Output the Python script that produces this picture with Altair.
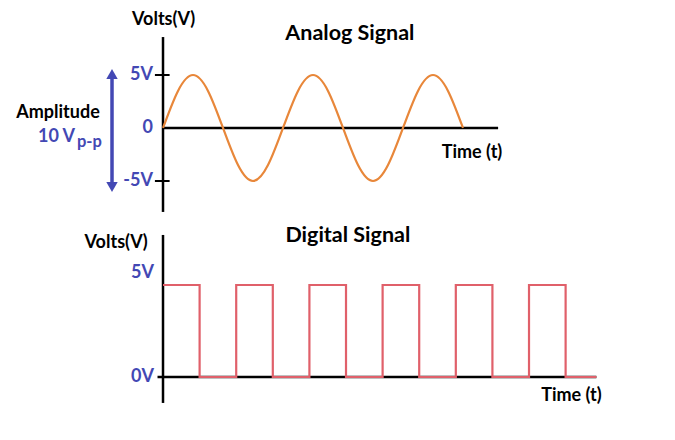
import altair as alt
import pandas as pd

# ---------------- data ----------------
# Analog signal: time in units of 1/4 period, sampled every 1/8 period; volts
analog_t = [0, 0.5, 1, 1.5, 2, 2.5, 3, 3.5, 4, 4.5, 5, 5.5, 6, 6.5, 7, 7.5, 8, 8.5, 9, 9.5, 10]
analog_v = [0, 3.5, 5, 3.5, 0, -3.5, -5, -3.5, 0, 3.5, 5, 3.5, 0, -3.5, -5, -3.5, 0, 3.5, 5, 3.5, 0]

# Digital signal: level changes (time in half-periods), volts
digital_t = [0, 1, 2, 3, 4, 5, 6, 7, 8, 9, 10, 11, 11.84]
digital_v = [5, 0, 5, 0, 5, 0, 5, 0, 5, 0, 5, 0, 0]

analog_tick_values = [5, 0, -5]
analog_tick_labels = ["5V", "0", "-5V"]
digital_tick_values = [5, 0]
digital_tick_labels = ["5V", "0V"]

ORANGE = "#E8873A"
RED = "#E0606A"
BLUE = "#4348B4"
FONT = "Lato"

W, H = 659, 212
TXT = 18      # body text size
TTL = 21.5    # panel title size

# ---------------- helpers ----------------
def text(df, xs, ys, size, color="black", align="center", dx=0, dy=0, weight="bold"):
    return alt.Chart(df).mark_text(
        font=FONT, fontSize=size, fontWeight=weight, color=color,
        align=align, baseline="middle", dx=dx, dy=dy
    ).encode(
        x=alt.X("x:Q", scale=xs, axis=None),
        y=alt.Y("y:Q", scale=ys, axis=None),
        text="label:N",
    )

def rule(df, xs, ys, width=2, color="black"):
    enc = dict(x=alt.X("x:Q", scale=xs, axis=None), y=alt.Y("y:Q", scale=ys, axis=None))
    if "x2" in df.columns:
        enc["x2"] = "x2:Q"
    if "y2" in df.columns:
        enc["y2"] = "y2:Q"
    return alt.Chart(df).mark_rule(color=color, strokeWidth=width).encode(**enc)

# ---------------- analog panel ----------------
ax = alt.Scale(domain=[-5.167, 16.8], nice=False, zero=False)
ay = alt.Scale(domain=[-8.68, 11.32], nice=False, zero=False)

analog_df = pd.DataFrame({"t": analog_t, "v": analog_v})
sine = alt.Chart(analog_df).mark_line(
    color=ORANGE, strokeWidth=2.2, interpolate="natural"
).encode(
    x=alt.X("t:Q", scale=ax, axis=None),
    y=alt.Y("v:Q", scale=ay, axis=None),
)

a_yaxis = rule(pd.DataFrame({"x": [0], "y": [-7.92], "y2": [8.58]}), ax, ay, 2.5)
a_xaxis = rule(pd.DataFrame({"x": [0], "x2": [11.17], "y": [0]}), ax, ay, 2.5)
a_ticks = rule(pd.DataFrame({"x": [-0.27, -0.27], "x2": [0.22, 0.22], "y": [5, -5]}), ax, ay, 2)
a_labels = text(pd.DataFrame({"x": [0] * 3, "y": analog_tick_values, "label": analog_tick_labels}),
                ax, ay, TXT, BLUE, align="right", dx=-10)

arrow_shaft = rule(pd.DataFrame({"x": [-1.7], "y": [-5.3], "y2": [4.8]}), ax, ay, 3.5, BLUE)
arrow_heads = alt.Chart(pd.DataFrame({"x": [-1.7, -1.7], "y": [5.09, -5.57],
                                       "shape": ["triangle-up", "triangle-down"]})).mark_point(
    filled=True, color=BLUE, size=130, opacity=1
).encode(
    x=alt.X("x:Q", scale=ax, axis=None),
    y=alt.Y("y:Q", scale=ay, axis=None),
    shape=alt.Shape("shape:N", scale=None, legend=None),
)

a_volts = text(pd.DataFrame({"x": [0.02], "y": [10.2], "label": ["Volts(V)"]}), ax, ay, TXT)
a_title = text(pd.DataFrame({"x": [6.23], "y": [8.87], "label": ["Analog Signal"]}), ax, ay, TTL)
a_time = text(pd.DataFrame({"x": [10.3], "y": [-2.36], "label": ["Time (t)"]}), ax, ay, TXT)
a_amp = text(pd.DataFrame({"x": [-3.5], "y": [1.415], "label": ["Amplitude"]}), ax, ay, TXT)
a_10v = text(pd.DataFrame({"x": [-2.93], "y": [-0.85], "label": ["10 V"]}), ax, ay, TXT, BLUE, align="right")
a_pp = text(pd.DataFrame({"x": [-2.87], "y": [-1.36], "label": ["p-p"]}), ax, ay, 16.5, BLUE, align="left")

analog = alt.layer(
    a_xaxis, a_yaxis, a_ticks, sine, a_labels, arrow_shaft, arrow_heads,
    a_volts, a_title, a_time, a_amp, a_10v, a_pp
).properties(width=W, height=H)

# ---------------- digital panel ----------------
dx_ = alt.Scale(domain=[-4.235, 13.77], nice=False, zero=False)
dy_ = alt.Scale(domain=[-2.989, 8.533], nice=False, zero=False)

digital_df = pd.DataFrame({"t": digital_t, "v": digital_v})
square = alt.Chart(digital_df).mark_line(
    color=RED, strokeWidth=2.2, interpolate="step-after"
).encode(
    x=alt.X("t:Q", scale=dx_, axis=None),
    y=alt.Y("v:Q", scale=dy_, axis=None),
)

d_yaxis = rule(pd.DataFrame({"x": [0], "y": [-1.41], "y2": [7.72]}), dx_, dy_, 2.5)
d_xaxis = rule(pd.DataFrame({"x": [-0.15], "x2": [11.84], "y": [0]}), dx_, dy_, 2.5)

d_volts = text(pd.DataFrame({"x": [-1.28], "y": [7.28], "label": ["Volts(V)"]}), dx_, dy_, TXT)
d_title = text(pd.DataFrame({"x": [5.05], "y": [7.66], "label": ["Digital Signal"]}), dx_, dy_, TTL)
d_time = text(pd.DataFrame({"x": [11.16], "y": [-1.03], "label": ["Time (t)"]}), dx_, dy_, TXT)

# the 5V label sits a little above the high level in the reference
d_labels_5 = text(pd.DataFrame({"x": [0], "y": [digital_tick_values[0]], "label": [digital_tick_labels[0]]}),
                  dx_, dy_, TXT, BLUE, align="right", dx=-9, dy=-12)
d_labels_0 = text(pd.DataFrame({"x": [0], "y": [digital_tick_values[1]], "label": [digital_tick_labels[1]]}),
                  dx_, dy_, TXT, BLUE, align="right", dx=-9)

digital = alt.layer(
    d_xaxis, d_yaxis, square, d_labels_5, d_labels_0, d_volts, d_title, d_time
).properties(width=W, height=H)

chart = alt.vconcat(analog, digital, spacing=0).properties(
    padding=0, background="white"
).configure_view(stroke=None).configure_concat(spacing=0)

chart.save("out.html", embed_options={"renderer": "svg", "actions": False})
